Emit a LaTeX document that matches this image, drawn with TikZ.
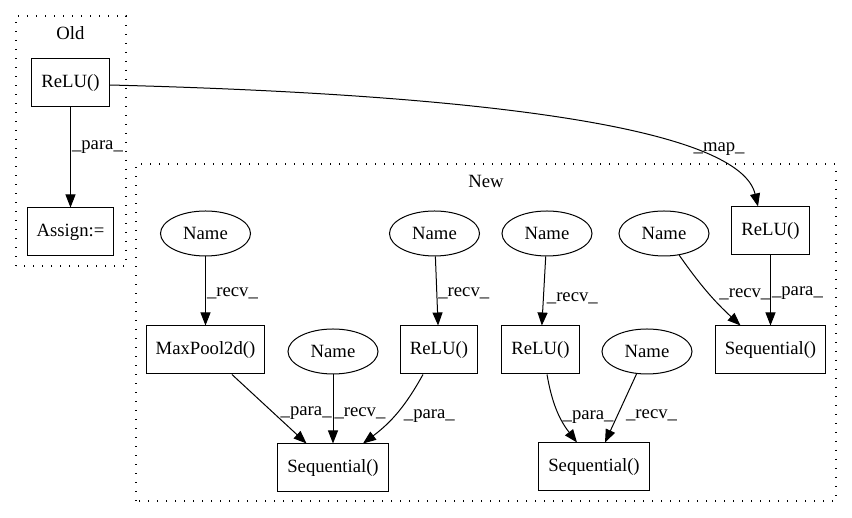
\documentclass[tikz,border=0pt]{standalone}
\usepackage{fontspec}
\setmainfont{Liberation Serif}
\usetikzlibrary{shapes.geometric, positioning, arrows.meta}

\begin{document}
\begin{tikzpicture}[x=1pt, y=1pt, node distance=69pt,
                     font=\fontsize{18.7}{22}\selectfont,
                     ident/.style={ellipse,
                         draw,
                         line width=1pt,
                         inner sep=0pt,
                         minimum width=90pt,
                         minimum height=45pt},
                     call/.style={rectangle,
                         draw,
                         line width=1pt,
                         inner xsep=9.5pt,
                         minimum height=48pt},
                     grp/.style={draw, line width=1.3pt,
                         dash pattern=on 1.4pt off 7.6pt},
                     flow/.style={-{Triangle[length=13pt,width=10pt]},
                         line width=1pt},
                     lbl/.style={anchor=west, inner sep=1pt}]
    \useasboundingbox (0,0) rectangle (852,518);
    % old
    \draw[grp] (16,252) rectangle (126,502);
    \node (old) at (70.5,485) {Old};
    \node[call] (oldrelu) at (70.5,435) {ReLU()};
    \node[call, below=100pt of oldrelu] (assign) {Assign:=};
    % new
    \draw[grp] (136,17) rectangle (836,354);
    \node (new) at (486,337) {New};
    \node[ident] (nm1) at (205.5,284.5) {Name};
    \node[ident] (nm2) at (434.5,284.5) {Name};
    \node[ident] (nm3) at (547,284.5) {Name};
    \node[ident] (nm4) at (664,284.5) {Name};
    \node[call] (relu1) at (770.5,287) {ReLU()};
    \node[call, below=of nm1] (pool) {MaxPool2d()};
    \node[ident] (nm5) at (333,166.5) {Name};
    \node[call, below=of nm2, xshift=4.5pt] (relu2) {ReLU()};
    \node[call, below=of nm3, xshift=-6.5pt] (relu3) {ReLU()};
    \node[ident] (nm6) at (647,166.5) {Name};
    \node[call, below=70pt of relu1] (seq1) {Sequential()};
    \node[call, below=of nm5] (seq2) {Sequential()};
    \node[call] (seq3) at (594,51) {Sequential()};

    \draw[flow] (oldrelu) -- node[lbl, pos=0.4] {\_para\_} (assign);
    \draw[flow] ([yshift=-2pt]oldrelu.east) .. controls (500,423) and (740,388) .. ([xshift=-12.5pt]relu1.north)
        node[pos=0.8, above=6pt, xshift=-2pt] {\_map\_};
    \draw[flow] (nm1) -- node[lbl, pos=0.54] {\_recv\_} (pool);
    \draw[flow] (nm2) -- node[lbl, pos=0.54] {\_recv\_} (relu2);
    \draw[flow] (nm3) -- node[lbl, pos=0.6, xshift=2pt] {\_recv\_} (relu3);
    \draw[flow] (nm4.-55) to[bend right=6] node[lbl, pos=0.54, xshift=8pt] {\_recv\_} ([xshift=-30pt]seq1.north);
    \draw[flow] (relu1) -- node[lbl, pos=0.54] {\_para\_} (seq1);
    \draw[flow] (pool) -- node[lbl, pos=0.56, xshift=5.5pt] {\_para\_} (seq2);
    \draw[flow] (nm5) -- node[lbl, pos=0.56] {\_recv\_} (seq2);
    \draw[flow] ([xshift=-16pt]relu2.south) to[bend left=12] node[lbl, pos=0.55, xshift=8pt] {\_para\_} ([xshift=30pt]seq2.north);
    \draw[flow] ([xshift=6.5pt]relu3.south) to[bend right=14] node[lbl, pos=0.6, xshift=1pt] {\_para\_} ([xshift=-17pt]seq3.north);
    \draw[flow] (nm6.-115) -- node[lbl, pos=0.6, xshift=7pt] {\_recv\_} ([xshift=11pt]seq3.north);
\end{tikzpicture}
\end{document}
